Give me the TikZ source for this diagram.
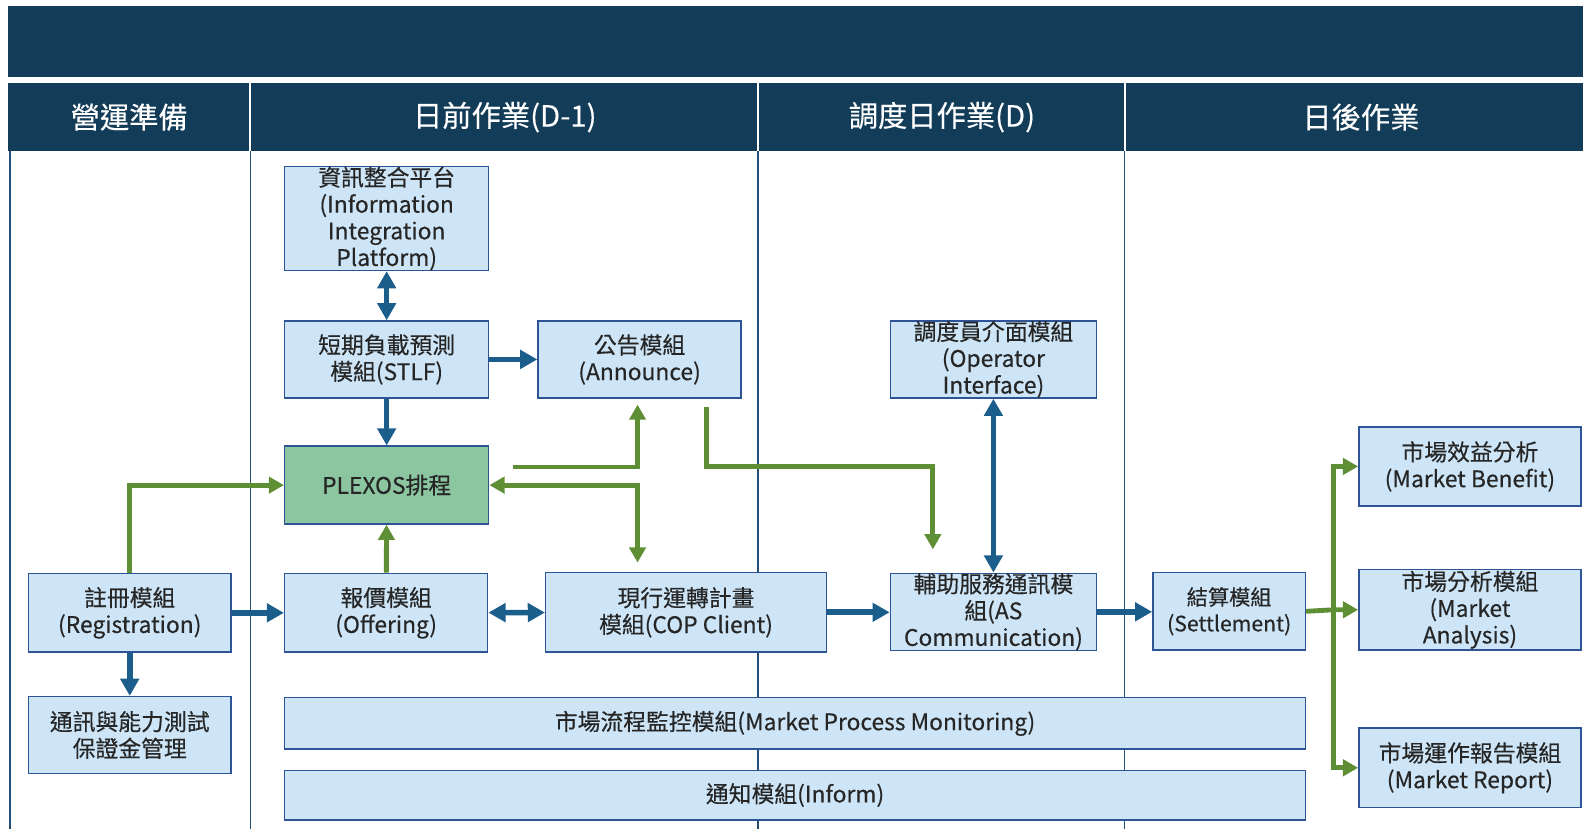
\documentclass[tikz,border=0pt]{standalone}
\usepackage{fontspec}
\setmainfont{Noto Sans CJK TC}[FakeBold=0.35]
\usetikzlibrary{arrows.meta}
\definecolor{navy}{RGB}{19,60,89}
\definecolor{boxfill}{RGB}{205,229,246}
\definecolor{boxline}{RGB}{47,84,150}
\definecolor{plexosfill}{RGB}{140,198,161}
\definecolor{flowblue}{RGB}{27,94,140}
\definecolor{flowgreen}{RGB}{94,143,52}
\definecolor{laneline}{RGB}{36,80,120}

\begin{document}
\begin{tikzpicture}[x=0.5pt, y=-0.5pt,
  module/.style={rectangle, draw=boxline, line width=0.75pt, fill=boxfill, inner sep=0pt, align=center, text=black!85, font=\fontsize{11.3}{13.2}\selectfont},
  lanehead/.style={text=white, font=\fontsize{14.5}{16}\selectfont},
  bflow/.style={draw=flowblue, line width=2.8pt, >={Triangle[length=8.5pt,width=9pt]}},
  gflow/.style={draw=flowgreen, line width=2.4pt, >={Triangle[length=7.5pt,width=8pt]}}]
\useasboundingbox (0,0) rectangle (1568,821);

\fill[navy] (8,6) rectangle (1568,76);
\fill[navy] (8,82) rectangle (1568,150);
\foreach \x in {248,751,1114}
  \draw[white, line width=1pt] (\x,82) -- (\x,150);
\foreach \x in {10,248,751,1114}
  \draw[laneline, line width=0.75pt] (\x,150) -- (\x,821);

\node[lanehead] (prep) at (128,116) {營運準備};
\node[lanehead] (dayahead) at (500,116) {日前作業(D-1)};
\node[lanehead] (dispatch) at (933,116) {調度日作業(D)};
\node[lanehead] (after) at (1348,116) {日後作業};

\node[module, minimum width=101pt, minimum height=49.5pt] (info) at (383,216.5) {資訊整合平台\\(Information\\Integration\\Platform)};
\node[module, minimum width=101pt, minimum height=38pt] (stlf) at (383,356) {短期負載預測\\模組(STLF)};
\node[module, minimum width=100.5pt, minimum height=38pt] (announce) at (633.5,356) {公告模組\\(Announce)};
\node[module, minimum width=101pt, minimum height=38.5pt, fill=plexosfill] (plexos) at (383,480.5) {PLEXOS排程};
\node[module, minimum width=102pt, minimum height=38pt] (operator) at (984,356) {調度員介面模組\\(Operator\\Interface)};
\node[module, minimum width=100.5pt, minimum height=39pt] (register) at (128.5,607) {註冊模組\\(Registration)};
\node[module, minimum width=100.5pt, minimum height=39pt] (offering) at (382.5,607) {報價模組\\(Offering)};
\node[module, minimum width=139pt, minimum height=39.5pt] (cop) at (679.5,606.5) {現行運轉計畫\\模組(COP Client)};
\node[module, minimum width=102pt, minimum height=38pt] (ascomm) at (984,606) {輔助服務通訊模\\組(AS\\Communication)};
\node[module, minimum width=75.5pt, minimum height=38.5pt, font=\fontsize{10.5}{13}\selectfont] (settle) at (1217.5,605.5) {結算模組\\(Settlement)};
\node[module, minimum width=110pt, minimum height=39pt] (benefit) at (1456,462) {市場效益分析\\(Market Benefit)};
\node[module, minimum width=110pt, minimum height=40pt] (analysis) at (1456,604) {市場分析模組\\(Market\\Analysis)};
\node[module, minimum width=110pt, minimum height=39.5pt] (report) at (1456,760.5) {市場運作報告模組\\(Market Report)};
\node[module, minimum width=100.5pt, minimum height=38pt] (testing) at (128.5,728) {通訊與能力測試\\保證金管理};
\node[module, minimum width=505.5pt, minimum height=25.5pt] (monitor) at (787.5,716.5) {市場流程監控模組(Market Process Monitoring)};
\node[module, minimum width=505.5pt, minimum height=24.5pt] (inform) at (787.5,787.5) {通知模組(Inform)};

\draw[bflow, <->] (info) -- (stlf);
\draw[bflow, ->] (stlf) -- (announce);
\draw[bflow, ->] (stlf) -- (plexos);
\draw[bflow, ->] (register) -- (offering);
\draw[bflow, ->] (register) -- (testing);
\draw[bflow, <->] (offering) -- (cop);
\draw[bflow, ->] (cop) -- (cop -| ascomm.west);
\draw[bflow, <->] (operator) -- (ascomm);
\draw[bflow, ->] (ascomm) -- (ascomm -| settle.west);

\draw[gflow, ->] (register.north) |- (plexos.west);
\draw[gflow, ->] (offering) -- (plexos);
\draw[gflow, ->] ([xshift=11.5pt,yshift=9pt]plexos.east) -| ([xshift=-1pt,yshift=-3pt]announce.south);
\draw[gflow, <->] (plexos.east) -| ([xshift=-24pt,yshift=4.5pt]cop.north);
\draw[gflow, ->] ([xshift=33pt,yshift=-4pt]announce.south) |- (924,462) -- ([xshift=-30pt,yshift=11.5pt]ascomm.north);
\coordinate (split) at ([xshift=13.5pt]settle.east);
\draw[gflow, ->] (settle.east) -- (split |- analysis.west) -- (analysis.west);
\draw[gflow, ->] (split) |- (benefit.west);
\draw[gflow, ->] (split) |- (report.west);
\end{tikzpicture}
\end{document}
